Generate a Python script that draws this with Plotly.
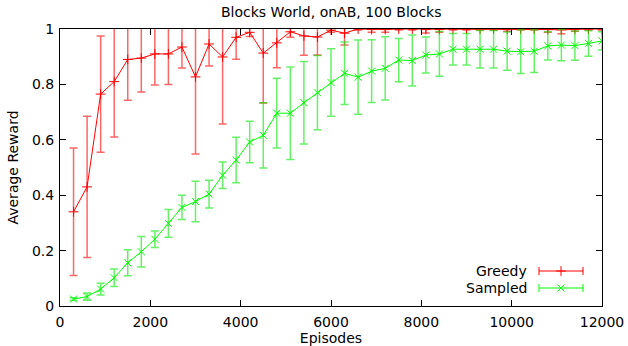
import plotly.graph_objects as go

episodes = [300, 600, 900, 1200, 1500, 1800, 2100, 2400, 2700, 3000,
            3300, 3600, 3900, 4200, 4500, 4800, 5100, 5400, 5700, 6000,
            6300, 6600, 6900, 7200, 7500, 7800, 8100, 8400, 8700, 9000,
            9300, 9600, 9900, 10200, 10500, 10800, 11100, 11400, 11700, 12000]

greedy = [0.34, 0.43, 0.765, 0.81, 0.89, 0.895, 0.91, 0.91, 0.935, 0.827,
          0.946, 0.899, 0.97, 0.988, 0.913, 0.95, 0.99, 0.975, 0.971, 0.996,
          0.985, 1.0, 0.998, 0.998, 1.0, 1.0, 0.998, 0.998, 1.0, 1.0,
          1.0, 1.0, 0.999, 1.0, 1.0, 0.998, 0.997, 0.999, 1.0, 1.0]
greedy_err = [0.23, 0.255, 0.21, 0.2, 0.147, 0.122, 0.112, 0.11, 0.076, 0.278,
              0.08, 0.242, 0.079, 0.015, 0.18, 0.09, 0.02, 0.07, 0.065, 0.008,
              0.043, 0.004, 0.01, 0.01, 0.004, 0.004, 0.012, 0.01, 0.004, 0.004,
              0.004, 0.004, 0.007, 0.004, 0.004, 0.01, 0.014, 0.007, 0.004, 0.004]

sampled = [0.025, 0.034, 0.061, 0.102, 0.156, 0.196, 0.241, 0.298, 0.356, 0.377,
           0.404, 0.472, 0.527, 0.592, 0.616, 0.696, 0.696, 0.734, 0.77, 0.807,
           0.84, 0.826, 0.848, 0.858, 0.888, 0.886, 0.906, 0.91, 0.927, 0.927,
           0.927, 0.927, 0.92, 0.918, 0.92, 0.939, 0.942, 0.94, 0.948, 0.957]
sampled_err = [0.005, 0.013, 0.021, 0.032, 0.047, 0.055, 0.03, 0.05, 0.044, 0.073,
               0.05, 0.048, 0.082, 0.075, 0.118, 0.126, 0.167, 0.149, 0.134, 0.122,
               0.113, 0.134, 0.113, 0.114, 0.078, 0.092, 0.065, 0.081, 0.057, 0.057,
               0.068, 0.068, 0.069, 0.079, 0.077, 0.051, 0.057, 0.053, 0.046, 0.033]

x_ticks = [0, 2000, 4000, 6000, 8000, 10000, 12000]
x_ticktext = ["0", "2000", "4000", "6000", "8000", "10000", "12000"]
y_ticks = [0, 0.2, 0.4, 0.6, 0.8, 1]
y_ticktext = ["0", "0.2", "0.4", "0.6", "0.8", "1"]

series_names = ["Greedy", "Sampled"]
RED = "#ff0000"
GREEN = "#00ff00"
FONT = "DejaVu Sans"
FS = 14

fig = go.Figure()
fig.add_trace(go.Scatter(
    x=episodes, y=greedy, name=series_names[0], mode="lines+markers",
    line=dict(color=RED, width=1),
    marker=dict(symbol="cross-thin", size=7, line=dict(color=RED, width=1)),
    error_y=dict(type="data", array=greedy_err, visible=True,
                 color="rgba(255,0,0,0.6)", thickness=1.5, width=4),
    cliponaxis=True,
))
fig.add_trace(go.Scatter(
    x=episodes, y=sampled, name=series_names[1], mode="lines+markers",
    line=dict(color=GREEN, width=1),
    marker=dict(symbol="x-thin", size=7, line=dict(color=GREEN, width=1)),
    error_y=dict(type="data", array=sampled_err, visible=True,
                 color="rgba(0,230,0,0.6)", thickness=1.5, width=4),
    cliponaxis=True,
))

FIG_W, FIG_H = 628, 346
# plot area in window pixels: x 60..602, y 29..306
PL, PR, PT, PB = 60, 602, 29, 306
L, R, T, B = PL, FIG_W - PR, PT, FIG_H - PB
def px(x): return (x - PL) / (PR - PL)
def py(y): return (PB - y) / (PB - PT)

legend_rows = [(series_names[0], RED, 271, "cross-thin"),
               (series_names[1], GREEN, 288, "x-thin")]
for name, col, yy, sym in legend_rows:
    fig.add_annotation(x=px(529), y=py(yy), xref="paper", yref="paper",
                       text=name, showarrow=False, xanchor="right", yanchor="middle",
                       font=dict(family=FONT, size=FS, color="#000000"))
    fig.add_shape(type="line", xref="paper", yref="paper",
                  x0=px(539), x1=px(583), y0=py(yy), y1=py(yy),
                  line=dict(color=col, width=1))
    for xe in (539, 583):
        fig.add_shape(type="line", xref="paper", yref="paper",
                      x0=px(xe), x1=px(xe), y0=py(yy - 4), y1=py(yy + 4),
                      line=dict(color=col, width=1))
    fig.add_trace(go.Scatter(x=[px(561)], y=[py(yy)], xaxis="x2", yaxis="y2",
                             mode="markers", showlegend=False, hoverinfo="skip",
                             marker=dict(symbol=sym, size=7, line=dict(color=col, width=1))))

fig.add_annotation(x=0.5, y=py(12), xref="paper", yref="paper",
                   text="Blocks World, onAB, 100 Blocks", showarrow=False,
                   xanchor="center", yanchor="middle",
                   font=dict(family=FONT, size=FS, color="#000000"))

axis_common = dict(ticks="inside", ticklen=6, tickcolor="#000000", showgrid=False,
                   zeroline=False, showline=True, linecolor="#000000", linewidth=1,
                   mirror="ticks", automargin=False,
                   tickfont=dict(family=FONT, size=FS, color="#000000"))

fig.update_layout(
    width=FIG_W, height=FIG_H,
    margin=dict(l=L, r=R, t=T, b=B, autoexpand=False),
    paper_bgcolor="white", plot_bgcolor="white",
    showlegend=False,
    font=dict(family=FONT, size=FS, color="#000000"),
    xaxis=dict(range=[0, 12000], tickvals=x_ticks, ticktext=x_ticktext,
               ticklabelstandoff=3,
               title=dict(text="Episodes", standoff=8, font=dict(size=FS)),
               **axis_common),
    yaxis=dict(range=[0, 1], tickvals=y_ticks, ticktext=y_ticktext,
               ticklabelstandoff=2,
               title=dict(text="Average Reward", standoff=10, font=dict(size=FS)),
               **axis_common),
    xaxis2=dict(range=[0, 1], overlaying="x", visible=False, anchor="y2"),
    yaxis2=dict(range=[0, 1], overlaying="y", visible=False, anchor="x2"),
)

fig.write_html("out.html", config={"displayModeBar": False},
               post_script="document.body.style.margin='0px';")
